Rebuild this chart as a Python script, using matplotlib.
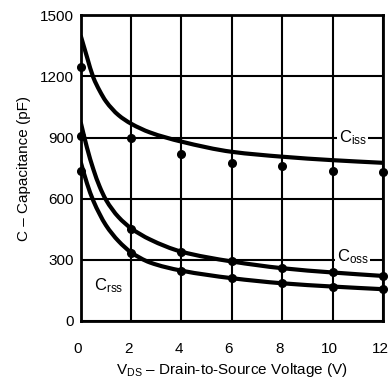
import matplotlib
matplotlib.use("Agg")
import matplotlib.pyplot as plt
import numpy as np
from matplotlib.path import Path
from matplotlib.patches import PathPatch
from matplotlib.transforms import ScaledTranslation

plt.rcParams["font.family"] = ["Liberation Sans", "DejaVu Sans"]
plt.rcParams["mathtext.fontset"] = "custom"
plt.rcParams["mathtext.rm"] = "Liberation Sans"
plt.rcParams["mathtext.it"] = "Liberation Sans"
plt.rcParams["mathtext.default"] = "rm"

# Capacitance curves vs drain-to-source voltage (pF)
curve_v = [0, 0.25, 0.5, 0.75, 1.0, 1.5, 2.0, 2.75, 4, 6, 8, 10, 12]
ciss_curve = [1400, 1295, 1195, 1130, 1078, 1010, 968, 925, 880, 830, 806, 789, 776]
coss_curve = [975, 850, 745, 660, 595, 510, 455, 400, 340, 292, 259, 238, 221]
crss_curve = [780, 675, 590, 525, 470, 392, 337, 287, 247, 210, 185, 169, 156]

# Measured points
meas_v = [0, 2, 4, 6, 8, 10, 12]
ciss_meas = [1245, 900, 817, 777, 759, 738, 729]
coss_meas = [909, 450, 338, 292, 259, 238, 221]
crss_meas = [735, 333, 247, 210, 185, 169, 156]

x_ticks = [0, 2, 4, 6, 8, 10, 12]
y_ticks = [0, 300, 600, 900, 1200, 1500]


def smooth_path(xs, ys):
    """Monotone cubic (Fritsch-Carlson) through the points, as Bezier segments."""
    x = np.asarray(xs, float)
    y = np.asarray(ys, float)
    h = np.diff(x)
    d = np.diff(y) / h
    m = np.empty_like(y)
    m[0], m[-1] = d[0], d[-1]
    for i in range(1, len(x) - 1):
        if d[i - 1] * d[i] <= 0:
            m[i] = 0.0
        else:
            w1 = 2 * h[i] + h[i - 1]
            w2 = h[i] + 2 * h[i - 1]
            m[i] = (w1 + w2) / (w1 / d[i - 1] + w2 / d[i])
    verts = [(x[0], y[0])]
    codes = [Path.MOVETO]
    for i in range(len(x) - 1):
        verts += [(x[i] + h[i] / 3, y[i] + m[i] * h[i] / 3),
                  (x[i + 1] - h[i] / 3, y[i + 1] - m[i + 1] * h[i] / 3),
                  (x[i + 1], y[i + 1])]
        codes += [Path.CURVE4] * 3
    return Path(verts, codes)


fig = plt.figure(figsize=(3.88, 3.81), dpi=100)
ax = fig.add_axes([0.208, 0.1575, 0.779, 0.8025])

ax.set_xlim(0, 12)
ax.set_ylim(0, 1500)
ax.set_xticks(x_ticks)
ax.set_yticks(y_ticks)
ax.tick_params(length=0, labelsize=11)
ax.tick_params(axis="x", pad=15)
ax.tick_params(axis="y", pad=5)
ax.grid(True, color="black", linewidth=1.5)
ax.set_axisbelow(True)
for s in ax.spines.values():
    s.set_linewidth(2.0)

# nudge the voltage tick labels slightly left
shift = ScaledTranslation(-3 / 100, 0, fig.dpi_scale_trans)
for lbl in ax.get_xticklabels():
    lbl.set_transform(lbl.get_transform() + shift)

for cv, mv in ((ciss_curve, ciss_meas), (coss_curve, coss_meas), (crss_curve, crss_meas)):
    ax.add_patch(PathPatch(smooth_path(curve_v, cv), facecolor="none", edgecolor="black",
                           linewidth=3.0, capstyle="butt", zorder=3))
    ax.plot(meas_v, mv, "o", color="black", markersize=5.5, clip_on=False, zorder=4)

box = dict(facecolor="white", edgecolor="none", pad=1.0)
ax.text(10.8, 900, r"$\mathrm{C_{iss}}$", fontsize=12, ha="center", va="center", bbox=box, zorder=5)
ax.text(10.8, 315, r"$\mathrm{C_{oss}}$", fontsize=12, ha="center", va="center", bbox=box, zorder=5)
ax.text(1.1, 175, r"$\mathrm{C_{rss}}$", fontsize=12, ha="center", va="center", zorder=5)

ax.set_xlabel(r"$\mathrm{V_{DS}}$ – Drain-to-Source Voltage (V)", fontsize=11, labelpad=4)
ax.set_ylabel("C – Capacitance (pF)", fontsize=11, labelpad=6)

fig.savefig("out.png", dpi=100)
